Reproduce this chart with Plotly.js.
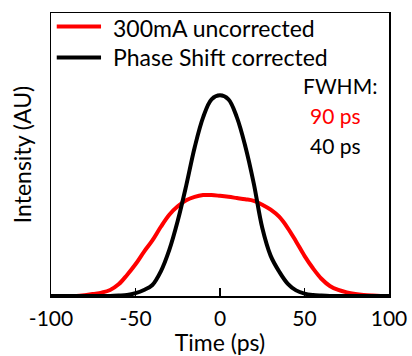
<!DOCTYPE html>
<html>
<head>
<meta charset="utf-8">
<script src="https://cdn.plot.ly/plotly-3.0.1.min.js"></script>
<style>html,body{margin:0;padding:0;background:#fff;}#chart{width:412px;height:356px;}</style>
</head>
<body>
<div id="chart"></div>
<script>
// Time axis (ps)
const timePs = [-100,-95,-90,-85,-80,-75,-70,-65,-60,-55,-50,-45,-40,-35,-30,-25,-20,-15,-10,-5,0,5,10,15,20,25,30,35,40,45,50,55,60,65,70,75,80,85,90,95,100];
// 300mA uncorrected (red)
const uncorrected = [0,0,0,0,0.004,0.01,0.017,0.03,0.058,0.105,0.158,0.22,0.277,0.345,0.405,0.447,0.477,0.494,0.503,0.503,0.499,0.494,0.488,0.482,0.474,0.455,0.43,0.395,0.34,0.272,0.2,0.138,0.086,0.05,0.03,0.018,0.01,0.005,0.002,0,0];
// Phase Shift corrected (black)
const corrected = [0,0,0,0,0,0,0,0,0.002,0.005,0.014,0.03,0.055,0.123,0.23,0.375,0.55,0.74,0.89,0.98,1.0,0.98,0.89,0.745,0.56,0.34,0.2,0.122,0.062,0.028,0.012,0.005,0.002,0,0,0,0,0,0,0,0];
const seriesNames = ["300mA uncorrected", "Phase Shift corrected"];
const seriesColors = ["#ff0000", "#000000"];
const tickVals = [-100,-50,0,50,100];
const tickLabels = ["-100","-50","0","50","100"];
const fwhmTitle = "FWHM:";
const fwhmLabels = ["90 ps", "40 ps"];

const FONT = "Lato, 'Open Sans', sans-serif";

const traces = [
  {x: timePs, y: uncorrected, name: seriesNames[0], type: 'scatter', mode: 'lines',
   line: {color: seriesColors[0], width: 4, shape: 'spline', smoothing: 1}},
  {x: timePs, y: corrected, name: seriesNames[1], type: 'scatter', mode: 'lines',
   line: {color: seriesColors[1], width: 4, shape: 'spline', smoothing: 1}}
];

// legend drawn as key lines + labels inside the top-left of the plot
const legendRows = [0.952, 0.843];
const legendTextRows = [0.947, 0.845];
const legendShapes = seriesNames.map((n, i) => ({
  type: 'line', xref: 'paper', yref: 'paper',
  x0: 0.017, x1: 0.148, y0: legendRows[i], y1: legendRows[i],
  line: {color: seriesColors[i], width: 4}
}));
const legendTexts = seriesNames.map((n, i) => ({
  xref: 'paper', yref: 'paper', x: 0.178, y: legendTextRows[i],
  xanchor: 'left', yanchor: 'middle', showarrow: false, text: n,
  font: {family: FONT, size: 23, color: '#000'}
}));

const layout = {
  width: 412, height: 356,
  margin: {l: 51, r: 23, t: 13, b: 60, pad: 0},
  paper_bgcolor: '#ffffff', plot_bgcolor: '#ffffff',
  font: {family: FONT, size: 21, color: '#000'},
  showlegend: false,
  xaxis: {
    range: [-100, 100], showgrid: false, zeroline: false,
    showline: true, linecolor: '#000', linewidth: 1.5, mirror: true,
    ticks: 'inside', ticklen: 8, tickwidth: 1.5, tickcolor: '#000',
    tickmode: 'array', tickvals: tickVals, ticktext: tickLabels,
    ticklabelstandoff: 3,
    tickfont: {family: FONT, size: 21, color: '#000'},
    title: {text: 'Time (ps)', font: {family: FONT, size: 23, color: '#000'}, standoff: 2}
  },
  yaxis: {
    range: [0, 1.41], showgrid: false, zeroline: false,
    showline: true, linecolor: '#000', linewidth: 1.5, mirror: true,
    ticks: '', showticklabels: false,
    title: {text: 'Intensity (AU)', font: {family: FONT, size: 23, color: '#000'}, standoff: 11}
  },
  shapes: legendShapes,
  annotations: legendTexts.concat([
    {xref: 'paper', yref: 'paper', x: 0.971, y: 0.745, xanchor: 'right', yanchor: 'middle',
     text: fwhmTitle, showarrow: false, font: {family: FONT, size: 21, color: '#000'}},
    {xref: 'paper', yref: 'paper', x: 0.76, y: 0.638, xanchor: 'left', yanchor: 'middle',
     text: fwhmLabels[0], showarrow: false, font: {family: FONT, size: 21, color: seriesColors[0]}},
    {xref: 'paper', yref: 'paper', x: 0.76, y: 0.532, xanchor: 'left', yanchor: 'middle',
     text: fwhmLabels[1], showarrow: false, font: {family: FONT, size: 21, color: seriesColors[1]}}
  ])
};

Plotly.newPlot('chart', traces, layout, {displayModeBar: false, staticPlot: true});
</script>
</body>
</html>
